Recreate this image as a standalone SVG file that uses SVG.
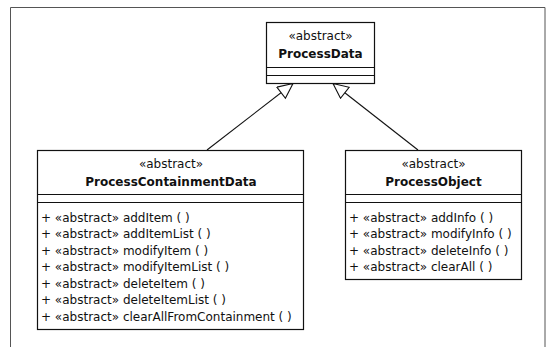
<svg xmlns="http://www.w3.org/2000/svg" width="553" height="347" viewBox="0 0 553 347">
  <style>
    .box { fill: #ffffff; stroke: #111111; stroke-width: 1.2; }
    .div { stroke: #111111; stroke-width: 1.2; }
    .st { font-family: "DejaVu Sans", Verdana, sans-serif; font-size: 12px; fill: #111111; text-anchor: middle; }
    .nm { font-family: "DejaVu Sans", Verdana, sans-serif; font-size: 12px; font-weight: bold; fill: #111111; text-anchor: middle; }
    .op { font-family: "DejaVu Sans", Verdana, sans-serif; font-size: 12px; fill: #111111; }
    .edge { stroke: #111111; stroke-width: 1.1; fill: none; marker-end: url(#gen); }
  </style>
  <defs>
    <marker id="gen" markerUnits="userSpaceOnUse" markerWidth="18" markerHeight="17" refX="16" refY="7.5" orient="auto">
      <path d="M1,0.5 L16,7.5 L1,14.5 Z" fill="#ffffff" stroke="#111111" stroke-width="1.1"/>
    </marker>
  </defs>
  <rect width="553" height="347" fill="#ffffff"/>
  <path d="M10.5,352 L10.5,7.5 L545,7.5 L545,352" fill="none" stroke="#555555" stroke-width="1"/>

  <g id="connectors">
    <path class="edge" d="M207,150 L293,83.5"/>
    <path class="edge" d="M418,150 L333,83.5"/>
  </g>

  <g id="ProcessData">
    <rect class="box" x="266.5" y="22.5" width="108" height="61"/>
    <line class="div" x1="266.5" y1="67.5" x2="374.5" y2="67.5"/>
    <line class="div" x1="266.5" y1="75.5" x2="374.5" y2="75.5"/>
    <text class="st" x="320.5" y="40">«abstract»</text>
    <text class="nm" x="320.5" y="58">ProcessData</text>
  </g>

  <g id="ProcessContainmentData">
    <rect class="box" x="37.5" y="150.5" width="266" height="179"/>
    <line class="div" x1="37.5" y1="194.5" x2="303.5" y2="194.5"/>
    <line class="div" x1="37.5" y1="202.5" x2="303.5" y2="202.5"/>
    <text class="st" x="171" y="168">«abstract»</text>
    <text class="nm" x="171" y="186">ProcessContainmentData</text>
    <text class="op" x="41" y="221.5">+ «abstract» addItem ( )</text>
    <text class="op" x="41" y="238">+ «abstract» addItemList ( )</text>
    <text class="op" x="41" y="254.5">+ «abstract» modifyItem ( )</text>
    <text class="op" x="41" y="271">+ «abstract» modifyItemList ( )</text>
    <text class="op" x="41" y="287.5">+ «abstract» deleteItem ( )</text>
    <text class="op" x="41" y="304">+ «abstract» deleteItemList ( )</text>
    <text class="op" x="41" y="320.5">+ «abstract» clearAllFromContainment ( )</text>
  </g>

  <g id="ProcessObject">
    <rect class="box" x="345.5" y="150.5" width="176" height="129"/>
    <line class="div" x1="345.5" y1="194.5" x2="521.5" y2="194.5"/>
    <line class="div" x1="345.5" y1="202.5" x2="521.5" y2="202.5"/>
    <text class="st" x="433.5" y="168">«abstract»</text>
    <text class="nm" x="433.5" y="186">ProcessObject</text>
    <text class="op" x="349" y="221.5">+ «abstract» addInfo ( )</text>
    <text class="op" x="349" y="238">+ «abstract» modifyInfo ( )</text>
    <text class="op" x="349" y="254.5">+ «abstract» deleteInfo ( )</text>
    <text class="op" x="349" y="271">+ «abstract» clearAll ( )</text>
  </g>
</svg>
